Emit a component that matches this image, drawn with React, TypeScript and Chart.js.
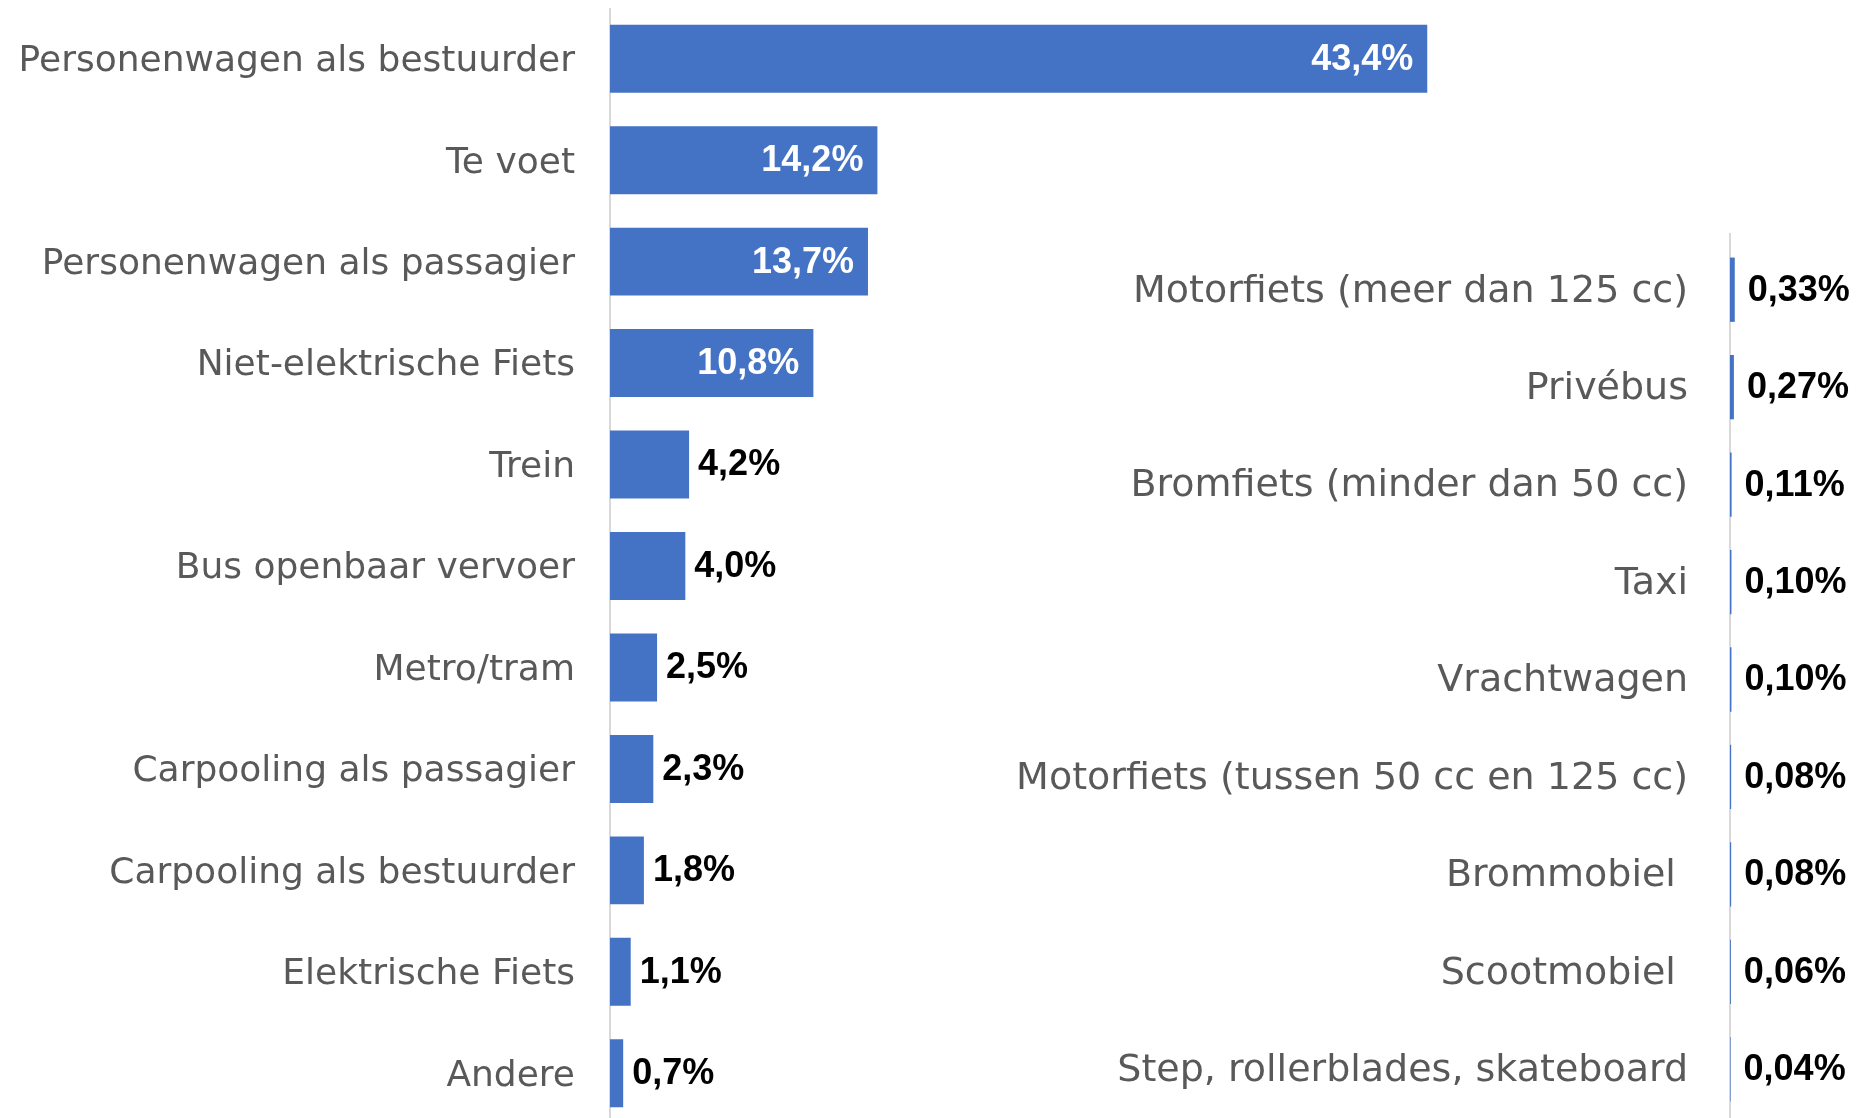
import React, { useEffect, useRef } from "react";
import { Chart, registerables } from "chart.js";

Chart.register(...registerables);

const leftCategories = [
  "Personenwagen als bestuurder",
  "Te voet",
  "Personenwagen als passagier",
  "Niet-elektrische Fiets",
  "Trein",
  "Bus openbaar vervoer",
  "Metro/tram",
  "Carpooling als passagier",
  "Carpooling als bestuurder",
  "Elektrische Fiets",
  "Andere",
];
const leftValues = [43.4, 14.2, 13.7, 10.8, 4.2, 4.0, 2.5, 2.3, 1.8, 1.1, 0.7];

const rightCategories = [
  "Motorfiets (meer dan 125 cc)",
  "Privébus",
  "Bromfiets (minder dan 50 cc)",
  "Taxi",
  "Vrachtwagen",
  "Motorfiets (tussen 50 cc en 125 cc)",
  "Brommobiel ",
  "Scootmobiel ",
  "Step, rollerblades, skateboard",
];
const rightValues = [0.33, 0.27, 0.11, 0.1, 0.1, 0.08, 0.08, 0.06, 0.04];

const BAR_COLOR = "#4472C4";
const LABEL_COLOR = "#595959";
const AXIS_COLOR = "#d9d9d9";
const LABEL_FONT = "DejaVu Sans";
const VALUE_FONT = "Liberation Sans";

function fmt(v: number, decimals: number) {
  return v.toFixed(decimals).replace(".", ",") + "%";
}

function makeChart(
  canvas: HTMLCanvasElement,
  categories: string[],
  values: number[],
  opts: {
    yWidth: number;
    tickPad: number;
    fontSize: number;
    valueSize: number;
    valueGap: number;
    xMax: number;
    padTop: number;
    barPct: number;
    decimals: number;
    insideThreshold: number;
    axisExtTop: number;
    labelOffset: number;
  }
) {
  const valueLabels = {
    id: "valueLabels",
    beforeDatasetsDraw(chart: any) {
      const { ctx, chartArea } = chart;
      ctx.save();
      ctx.strokeStyle = AXIS_COLOR;
      ctx.lineWidth = 2;
      ctx.beginPath();
      ctx.moveTo(chartArea.left, chartArea.top - opts.axisExtTop);
      ctx.lineTo(chartArea.left, chartArea.bottom);
      ctx.stroke();
      ctx.restore();
    },
    afterDatasetsDraw(chart: any) {
      const { ctx } = chart;
      const meta = chart.getDatasetMeta(0);
      ctx.save();
      ctx.font = `bold ${opts.valueSize}px "${VALUE_FONT}"`;
      ctx.textBaseline = "middle";
      meta.data.forEach((bar: any, i: number) => {
        const v = values[i];
        const text = fmt(v, opts.decimals);
        if (v >= opts.insideThreshold) {
          ctx.fillStyle = "#ffffff";
          ctx.textAlign = "right";
          ctx.fillText(text, bar.x - 14, bar.y + 1);
        } else {
          ctx.fillStyle = "#000000";
          ctx.textAlign = "left";
          ctx.fillText(text, bar.x + opts.valueGap, bar.y + 1);
        }
      });
      ctx.restore();
    },
  };

  return new Chart(canvas, {
    type: "bar",
    data: {
      labels: categories,
      datasets: [
        {
          data: values,
          backgroundColor: BAR_COLOR,
          borderWidth: 0,
          barPercentage: opts.barPct,
          categoryPercentage: 1,
        },
      ],
    },
    options: {
      indexAxis: "y",
      responsive: false,
      animation: false,
      layout: { padding: { top: opts.padTop, left: 0, right: 0, bottom: 0 } },
      plugins: {
        legend: { display: false },
        tooltip: { enabled: false },
        title: { display: false },
      },
      scales: {
        x: {
          display: false,
          min: 0,
          max: opts.xMax,
          grid: { display: false },
        },
        y: {
          grid: { display: false, drawTicks: false },
          border: { display: false },
          ticks: {
            color: LABEL_COLOR,
            font: { family: LABEL_FONT, size: opts.fontSize },
            padding: opts.tickPad,
            labelOffset: opts.labelOffset,
            autoSkip: false,
          },
          afterFit: (scale: any) => {
            scale.width = opts.yWidth;
            scale.paddingTop = 0;
            scale.paddingBottom = 0;
          },
        },
      },
    },
    plugins: [valueLabels],
  } as any);
}

export default function App() {
  const leftRef = useRef<HTMLCanvasElement | null>(null);
  const rightRef = useRef<HTMLCanvasElement | null>(null);

  useEffect(() => {
    const left = makeChart(leftRef.current!, leftCategories, leftValues, {
      yWidth: 610,
      tickPad: 35,
      fontSize: 36,
      valueSize: 36,
      valueGap: 9,
      xMax: 50.45,
      padTop: 8,
      barPct: 0.67,
      decimals: 1,
      insideThreshold: 10,
      axisExtTop: 0,
      labelOffset: 3,
    });
    const right = makeChart(rightRef.current!, rightCategories, rightValues, {
      yWidth: 830,
      tickPad: 42,
      fontSize: 38,
      valueSize: 36,
      valueGap: 13,
      xMax: 9,
      padTop: 241,
      barPct: 0.66,
      decimals: 2,
      insideThreshold: 1000,
      axisExtTop: 8,
      labelOffset: 2,
    });
    return () => {
      left.destroy();
      right.destroy();
    };
  }, []);

  return (
    <div
      style={{
        position: "fixed",
        left: 0,
        top: 0,
        width: 1860,
        height: 1118,
        overflow: "hidden",
        background: "#ffffff",
      }}
    >
      <canvas
        ref={leftRef}
        width={1560}
        height={1124}
        style={{ position: "absolute", left: 0, top: 0, width: 1560, height: 1124 }}
      />
      <canvas
        ref={rightRef}
        width={960}
        height={1118}
        style={{ position: "absolute", left: 900, top: 0, width: 960, height: 1118 }}
      />
    </div>
  );
}
